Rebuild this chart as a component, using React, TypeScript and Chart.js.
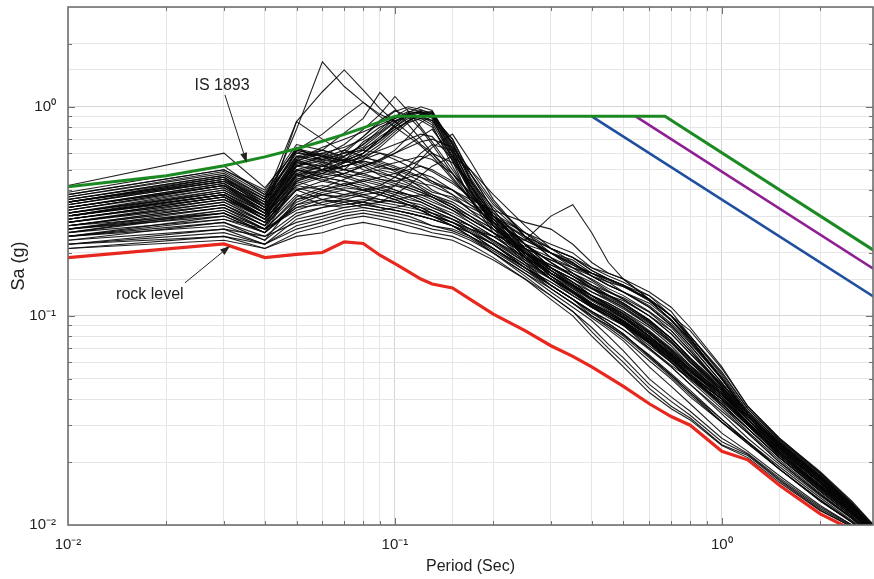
import { useEffect, useRef } from 'react';
import { Chart, registerables } from 'chart.js';

Chart.register(...registerables);

// Spectral periods (s) shared by every record below
const periods = [
  0.01, 0.03, 0.04, 0.05, 0.06, 0.07, 0.08, 0.09, 0.1, 0.11, 0.12, 0.13, 0.15, 0.17, 0.2,
  0.25, 0.3, 0.35, 0.4, 0.45, 0.5, 0.6, 0.7, 0.8, 1.0, 1.2, 1.5, 2.0, 2.5, 3.0,
];

// Bedrock spectrum (Sa in g)
const rockLevel = [
  0.19, 0.221, 0.19, 0.197, 0.201, 0.226, 0.222, 0.195, 0.178, 0.163, 0.15, 0.142, 0.136, 0.12, 0.102,
  0.085, 0.072, 0.064, 0.057, 0.051, 0.046, 0.038, 0.033, 0.03, 0.0225, 0.0205, 0.0155, 0.0113, 0.0095, 0.0075,
];

// IS 1893 design spectra
const codeSoftPeriods = [0.01, 0.02, 0.03, 0.04, 0.05, 0.06, 0.07, 0.08, 0.09, 0.1, 0.67, 3.0];
const codeSoftSa = [0.414, 0.468, 0.522, 0.576, 0.63, 0.684, 0.738, 0.792, 0.846, 0.9, 0.9, 0.2];
const codeMediumPeriods = [0.545, 3.0];
const codeMediumSa = [0.9, 0.163];
const codeRockPeriods = [0.4, 3.0];
const codeRockSa = [0.9, 0.12];

// Surface spectra, grouped by shape
const steepDropRecords = [
  [0.30, 0.38, 0.30, 0.52, 0.55, 0.58, 0.66, 0.78, 0.90, 0.98, 0.95, 0.88, 0.58, 0.40, 0.27, 0.19, 0.15, 0.13, 0.11, 0.10, 0.092, 0.075, 0.062, 0.052, 0.04, 0.031, 0.022, 0.015, 0.0115, 0.0088],
  [0.33, 0.42, 0.33, 0.56, 0.50, 0.62, 0.72, 0.84, 0.95, 1.0, 0.97, 0.92, 0.62, 0.43, 0.29, 0.2, 0.16, 0.135, 0.115, 0.105, 0.095, 0.078, 0.064, 0.054, 0.042, 0.032, 0.023, 0.016, 0.012, 0.009],
  [0.28, 0.35, 0.28, 0.48, 0.52, 0.50, 0.60, 0.70, 0.82, 0.92, 0.96, 0.94, 0.66, 0.45, 0.30, 0.21, 0.165, 0.14, 0.12, 0.11, 0.10, 0.08, 0.066, 0.055, 0.041, 0.031, 0.022, 0.0155, 0.0118, 0.009],
  [0.36, 0.47, 0.36, 0.60, 0.58, 0.55, 0.68, 0.76, 0.88, 0.95, 0.93, 0.90, 0.55, 0.36, 0.25, 0.18, 0.14, 0.12, 0.105, 0.095, 0.086, 0.07, 0.058, 0.05, 0.038, 0.029, 0.021, 0.0145, 0.011, 0.0085],
  [0.26, 0.33, 0.27, 0.45, 0.48, 0.54, 0.58, 0.66, 0.76, 0.86, 0.92, 0.90, 0.70, 0.48, 0.32, 0.22, 0.17, 0.145, 0.125, 0.115, 0.105, 0.085, 0.07, 0.058, 0.044, 0.033, 0.024, 0.0165, 0.0125, 0.0095],
  [0.31, 0.40, 0.31, 0.55, 0.60, 0.64, 0.70, 0.80, 0.86, 0.90, 0.88, 0.82, 0.52, 0.37, 0.26, 0.185, 0.15, 0.125, 0.11, 0.098, 0.09, 0.074, 0.06, 0.05, 0.039, 0.03, 0.0215, 0.015, 0.0112, 0.0087],
  [0.34, 0.44, 0.34, 0.58, 0.56, 0.60, 0.64, 0.74, 0.84, 0.94, 1.0, 0.96, 0.64, 0.42, 0.28, 0.2, 0.155, 0.13, 0.115, 0.102, 0.094, 0.077, 0.063, 0.052, 0.04, 0.0305, 0.022, 0.0152, 0.0116, 0.0089],
  [0.29, 0.37, 0.30, 0.50, 0.54, 0.56, 0.62, 0.72, 0.80, 0.88, 0.90, 0.86, 0.60, 0.41, 0.28, 0.195, 0.155, 0.13, 0.112, 0.1, 0.091, 0.074, 0.061, 0.051, 0.039, 0.03, 0.0215, 0.0148, 0.0113, 0.0086],
  [0.32, 0.41, 0.32, 0.54, 0.52, 0.58, 0.66, 0.75, 0.85, 0.93, 0.94, 0.91, 0.61, 0.40, 0.27, 0.19, 0.15, 0.128, 0.112, 0.1, 0.092, 0.076, 0.062, 0.052, 0.04, 0.031, 0.022, 0.0152, 0.0115, 0.0088],
  [0.27, 0.34, 0.27, 0.47, 0.50, 0.52, 0.56, 0.64, 0.74, 0.84, 0.88, 0.86, 0.68, 0.46, 0.31, 0.21, 0.165, 0.14, 0.12, 0.108, 0.098, 0.08, 0.065, 0.054, 0.041, 0.031, 0.0225, 0.0155, 0.0118, 0.009],
  [0.24, 0.30, 0.25, 0.44, 0.50, 0.55, 0.60, 0.70, 0.80, 0.90, 0.94, 0.93, 0.63, 0.42, 0.28, 0.195, 0.155, 0.132, 0.114, 0.102, 0.094, 0.077, 0.063, 0.052, 0.04, 0.0305, 0.022, 0.0152, 0.0115, 0.0088],
  [0.35, 0.45, 0.35, 0.58, 0.62, 0.58, 0.63, 0.70, 0.78, 0.85, 0.92, 0.95, 0.67, 0.45, 0.30, 0.205, 0.16, 0.137, 0.118, 0.106, 0.097, 0.079, 0.065, 0.054, 0.041, 0.031, 0.0222, 0.0155, 0.0117, 0.0089],
  [0.36, 0.46, 0.35, 0.56, 0.64, 0.70, 0.76, 0.82, 0.88, 0.92, 0.90, 0.84, 0.57, 0.39, 0.27, 0.19, 0.15, 0.13, 0.113, 0.102, 0.093, 0.076, 0.062, 0.052, 0.04, 0.0305, 0.022, 0.0151, 0.0114, 0.0087],
  [0.38, 0.50, 0.39, 0.63, 0.59, 0.55, 0.60, 0.68, 0.78, 0.86, 0.91, 0.93, 0.66, 0.44, 0.29, 0.2, 0.155, 0.132, 0.115, 0.104, 0.095, 0.078, 0.064, 0.053, 0.04, 0.0305, 0.022, 0.0152, 0.0115, 0.0088],
  [0.35, 0.44, 0.34, 0.54, 0.58, 0.55, 0.52, 0.56, 0.62, 0.72, 0.84, 0.90, 0.70, 0.48, 0.32, 0.22, 0.17, 0.145, 0.125, 0.113, 0.103, 0.084, 0.069, 0.057, 0.043, 0.032, 0.0232, 0.016, 0.0119, 0.009],
];

const broadHumpRecords = [
  [0.30, 0.40, 0.32, 0.55, 0.50, 0.46, 0.48, 0.50, 0.48, 0.45, 0.43, 0.42, 0.38, 0.34, 0.30, 0.25, 0.22, 0.20, 0.17, 0.16, 0.15, 0.12, 0.10, 0.085, 0.056, 0.037, 0.026, 0.018, 0.013, 0.0095],
  [0.35, 0.46, 0.36, 0.62, 0.58, 0.52, 0.55, 0.52, 0.50, 0.47, 0.44, 0.40, 0.36, 0.33, 0.29, 0.24, 0.21, 0.19, 0.165, 0.15, 0.14, 0.125, 0.105, 0.08, 0.052, 0.035, 0.025, 0.0175, 0.0125, 0.009],
  [0.28, 0.36, 0.30, 0.50, 0.46, 0.48, 0.52, 0.47, 0.44, 0.42, 0.40, 0.38, 0.35, 0.31, 0.27, 0.22, 0.2, 0.18, 0.155, 0.14, 0.13, 0.115, 0.095, 0.075, 0.05, 0.034, 0.024, 0.017, 0.012, 0.0088],
  [0.37, 0.49, 0.38, 0.64, 0.55, 0.50, 0.47, 0.45, 0.43, 0.41, 0.39, 0.37, 0.33, 0.30, 0.26, 0.215, 0.19, 0.17, 0.16, 0.145, 0.13, 0.11, 0.09, 0.072, 0.048, 0.033, 0.0235, 0.0165, 0.0118, 0.0086],
  [0.33, 0.43, 0.33, 0.57, 0.60, 0.56, 0.50, 0.48, 0.46, 0.44, 0.42, 0.39, 0.37, 0.32, 0.28, 0.23, 0.2, 0.185, 0.16, 0.15, 0.14, 0.12, 0.1, 0.078, 0.05, 0.034, 0.0245, 0.017, 0.0122, 0.0088],
  [0.25, 0.32, 0.26, 0.44, 0.48, 0.52, 0.55, 0.53, 0.49, 0.45, 0.41, 0.38, 0.34, 0.30, 0.26, 0.21, 0.185, 0.165, 0.15, 0.135, 0.125, 0.105, 0.088, 0.07, 0.046, 0.032, 0.023, 0.016, 0.0115, 0.0085],
  [0.30, 0.38, 0.30, 0.48, 0.44, 0.42, 0.40, 0.38, 0.36, 0.34, 0.32, 0.30, 0.28, 0.26, 0.24, 0.23, 0.30, 0.34, 0.25, 0.18, 0.15, 0.12, 0.095, 0.078, 0.05, 0.034, 0.0245, 0.017, 0.0122, 0.009],
  [0.38, 0.50, 0.40, 0.66, 0.62, 0.57, 0.53, 0.49, 0.46, 0.43, 0.40, 0.37, 0.33, 0.29, 0.25, 0.2, 0.175, 0.16, 0.145, 0.13, 0.12, 0.1, 0.085, 0.068, 0.046, 0.032, 0.0225, 0.016, 0.0115, 0.0085],
  [0.31, 0.41, 0.31, 0.53, 0.57, 0.62, 0.58, 0.54, 0.51, 0.48, 0.46, 0.44, 0.40, 0.35, 0.30, 0.24, 0.21, 0.19, 0.17, 0.155, 0.145, 0.125, 0.1, 0.08, 0.053, 0.036, 0.0255, 0.0178, 0.0128, 0.0092],
  [0.29, 0.37, 0.29, 0.49, 0.53, 0.47, 0.44, 0.46, 0.48, 0.50, 0.52, 0.50, 0.44, 0.37, 0.31, 0.25, 0.21, 0.19, 0.165, 0.15, 0.14, 0.12, 0.1, 0.078, 0.05, 0.034, 0.024, 0.017, 0.0122, 0.0088],
  [0.36, 0.47, 0.37, 0.61, 0.56, 0.54, 0.57, 0.55, 0.52, 0.49, 0.46, 0.43, 0.40, 0.36, 0.32, 0.28, 0.26, 0.22, 0.18, 0.16, 0.15, 0.13, 0.11, 0.088, 0.057, 0.037, 0.026, 0.0178, 0.0128, 0.0095],
  [0.30, 0.37, 0.29, 0.43, 0.47, 0.50, 0.48, 0.45, 0.44, 0.46, 0.48, 0.46, 0.40, 0.34, 0.28, 0.23, 0.2, 0.175, 0.16, 0.15, 0.14, 0.118, 0.096, 0.076, 0.05, 0.034, 0.0242, 0.0168, 0.0121, 0.0088],
  [0.33, 0.42, 0.32, 0.50, 0.46, 0.44, 0.42, 0.40, 0.39, 0.38, 0.37, 0.35, 0.32, 0.29, 0.25, 0.21, 0.185, 0.17, 0.155, 0.145, 0.138, 0.12, 0.1, 0.08, 0.054, 0.036, 0.0255, 0.0176, 0.0126, 0.0092],
  [0.31, 0.39, 0.31, 0.47, 0.52, 0.56, 0.54, 0.51, 0.50, 0.52, 0.56, 0.60, 0.54, 0.44, 0.33, 0.24, 0.2, 0.175, 0.155, 0.14, 0.13, 0.112, 0.092, 0.074, 0.05, 0.034, 0.0245, 0.017, 0.0123, 0.009],
  [0.30, 0.38, 0.30, 0.45, 0.49, 0.52, 0.56, 0.60, 0.58, 0.55, 0.52, 0.49, 0.43, 0.37, 0.30, 0.235, 0.2, 0.178, 0.16, 0.148, 0.138, 0.118, 0.096, 0.077, 0.051, 0.035, 0.0248, 0.0172, 0.0124, 0.0091],
];

const flatLowRecords = [
  [0.22, 0.24, 0.22, 0.26, 0.28, 0.30, 0.31, 0.30, 0.29, 0.28, 0.27, 0.26, 0.25, 0.23, 0.2, 0.16, 0.13, 0.11, 0.095, 0.08, 0.068, 0.05, 0.041, 0.035, 0.026, 0.022, 0.0168, 0.0122, 0.01, 0.0078],
  [0.24, 0.27, 0.23, 0.30, 0.33, 0.34, 0.35, 0.33, 0.32, 0.31, 0.30, 0.29, 0.27, 0.25, 0.22, 0.175, 0.14, 0.12, 0.105, 0.092, 0.082, 0.064, 0.052, 0.043, 0.032, 0.025, 0.019, 0.0135, 0.0105, 0.0082],
  [0.21, 0.23, 0.21, 0.24, 0.25, 0.27, 0.28, 0.27, 0.26, 0.25, 0.245, 0.24, 0.23, 0.21, 0.185, 0.15, 0.125, 0.105, 0.084, 0.07, 0.06, 0.045, 0.037, 0.0325, 0.0242, 0.0215, 0.0163, 0.0118, 0.0098, 0.0077],
  [0.26, 0.30, 0.25, 0.34, 0.36, 0.38, 0.37, 0.36, 0.35, 0.34, 0.33, 0.32, 0.29, 0.26, 0.23, 0.18, 0.15, 0.13, 0.11, 0.1, 0.09, 0.07, 0.057, 0.047, 0.034, 0.026, 0.0195, 0.0138, 0.0107, 0.0083],
  [0.23, 0.26, 0.24, 0.28, 0.30, 0.32, 0.33, 0.32, 0.31, 0.30, 0.285, 0.27, 0.26, 0.24, 0.21, 0.165, 0.135, 0.115, 0.1, 0.088, 0.078, 0.061, 0.05, 0.041, 0.031, 0.0245, 0.0185, 0.013, 0.0103, 0.008],
  [0.25, 0.29, 0.26, 0.32, 0.35, 0.36, 0.38, 0.39, 0.37, 0.35, 0.33, 0.31, 0.28, 0.25, 0.21, 0.17, 0.14, 0.12, 0.1, 0.09, 0.08, 0.063, 0.051, 0.042, 0.031, 0.025, 0.0185, 0.0132, 0.0104, 0.0081],
  [0.22, 0.25, 0.22, 0.27, 0.29, 0.31, 0.32, 0.31, 0.30, 0.29, 0.28, 0.27, 0.255, 0.235, 0.2, 0.155, 0.125, 0.105, 0.088, 0.073, 0.063, 0.047, 0.039, 0.0335, 0.025, 0.0218, 0.0165, 0.012, 0.0099, 0.0078],
  [0.27, 0.31, 0.26, 0.33, 0.34, 0.36, 0.35, 0.34, 0.33, 0.32, 0.31, 0.30, 0.28, 0.255, 0.22, 0.17, 0.14, 0.12, 0.103, 0.092, 0.082, 0.064, 0.052, 0.043, 0.031, 0.0245, 0.0185, 0.013, 0.0103, 0.008],
  [0.21, 0.24, 0.21, 0.25, 0.27, 0.29, 0.30, 0.29, 0.28, 0.27, 0.26, 0.25, 0.24, 0.22, 0.19, 0.15, 0.12, 0.1, 0.08, 0.067, 0.057, 0.043, 0.036, 0.0318, 0.024, 0.021, 0.016, 0.0117, 0.0098, 0.0077],
  [0.22, 0.26, 0.22, 0.29, 0.31, 0.33, 0.34, 0.33, 0.32, 0.31, 0.30, 0.29, 0.27, 0.25, 0.22, 0.17, 0.135, 0.115, 0.098, 0.086, 0.076, 0.057, 0.046, 0.038, 0.0275, 0.0225, 0.0172, 0.0124, 0.01, 0.0079],
  [0.24, 0.28, 0.24, 0.31, 0.33, 0.35, 0.36, 0.35, 0.34, 0.33, 0.32, 0.31, 0.29, 0.27, 0.24, 0.2, 0.17, 0.15, 0.135, 0.125, 0.115, 0.096, 0.078, 0.062, 0.044, 0.032, 0.023, 0.0158, 0.0117, 0.0088],
];

const midBandRecords = [
  [0.28, 0.35, 0.28, 0.40, 0.42, 0.40, 0.38, 0.36, 0.35, 0.34, 0.33, 0.31, 0.28, 0.25, 0.21, 0.17, 0.145, 0.125, 0.11, 0.1, 0.09, 0.072, 0.06, 0.05, 0.037, 0.029, 0.021, 0.0145, 0.011, 0.0085],
  [0.31, 0.39, 0.30, 0.44, 0.40, 0.43, 0.41, 0.39, 0.37, 0.35, 0.34, 0.32, 0.29, 0.26, 0.22, 0.175, 0.15, 0.13, 0.115, 0.104, 0.094, 0.075, 0.062, 0.051, 0.038, 0.029, 0.021, 0.0148, 0.0112, 0.0086],
  [0.26, 0.32, 0.26, 0.36, 0.38, 0.36, 0.34, 0.33, 0.32, 0.31, 0.30, 0.29, 0.27, 0.24, 0.205, 0.165, 0.14, 0.12, 0.105, 0.095, 0.086, 0.069, 0.057, 0.047, 0.035, 0.0275, 0.02, 0.014, 0.0108, 0.0083],
  [0.33, 0.42, 0.32, 0.47, 0.45, 0.42, 0.45, 0.43, 0.40, 0.38, 0.36, 0.34, 0.30, 0.27, 0.23, 0.185, 0.16, 0.14, 0.125, 0.112, 0.102, 0.083, 0.068, 0.055, 0.04, 0.03, 0.0215, 0.015, 0.0113, 0.0087],
  [0.29, 0.36, 0.29, 0.42, 0.46, 0.44, 0.40, 0.41, 0.39, 0.37, 0.35, 0.33, 0.30, 0.27, 0.225, 0.18, 0.155, 0.135, 0.12, 0.108, 0.098, 0.08, 0.064, 0.052, 0.038, 0.029, 0.021, 0.0146, 0.011, 0.0085],
  [0.35, 0.46, 0.34, 0.50, 0.48, 0.46, 0.43, 0.40, 0.38, 0.36, 0.35, 0.33, 0.30, 0.27, 0.23, 0.19, 0.165, 0.145, 0.13, 0.118, 0.108, 0.09, 0.074, 0.06, 0.043, 0.032, 0.023, 0.016, 0.0118, 0.0088],
  [0.37, 0.48, 0.37, 0.52, 0.50, 0.48, 0.46, 0.44, 0.42, 0.40, 0.38, 0.36, 0.32, 0.28, 0.24, 0.19, 0.16, 0.14, 0.125, 0.115, 0.105, 0.088, 0.072, 0.058, 0.042, 0.031, 0.0225, 0.0155, 0.0115, 0.0087],
  [0.23, 0.28, 0.23, 0.36, 0.40, 0.42, 0.44, 0.42, 0.40, 0.38, 0.36, 0.34, 0.31, 0.28, 0.24, 0.19, 0.16, 0.14, 0.125, 0.112, 0.1, 0.08, 0.064, 0.052, 0.037, 0.028, 0.0205, 0.0142, 0.0108, 0.0083],
  [0.28, 0.34, 0.27, 0.38, 0.34, 0.33, 0.34, 0.35, 0.36, 0.37, 0.38, 0.37, 0.34, 0.30, 0.25, 0.2, 0.17, 0.15, 0.135, 0.125, 0.118, 0.1, 0.082, 0.066, 0.046, 0.033, 0.0235, 0.0165, 0.012, 0.0088],
  [0.25, 0.31, 0.25, 0.33, 0.36, 0.35, 0.33, 0.32, 0.33, 0.34, 0.32, 0.30, 0.27, 0.24, 0.2, 0.16, 0.135, 0.115, 0.1, 0.09, 0.081, 0.065, 0.053, 0.044, 0.032, 0.025, 0.0185, 0.0131, 0.0103, 0.008],
  [0.26, 0.31, 0.25, 0.35, 0.39, 0.41, 0.40, 0.38, 0.36, 0.34, 0.32, 0.30, 0.27, 0.24, 0.21, 0.17, 0.145, 0.125, 0.11, 0.1, 0.092, 0.074, 0.06, 0.049, 0.036, 0.0275, 0.02, 0.014, 0.0108, 0.0083],
  [0.29, 0.36, 0.28, 0.41, 0.38, 0.37, 0.39, 0.41, 0.42, 0.41, 0.39, 0.37, 0.33, 0.29, 0.25, 0.2, 0.175, 0.155, 0.14, 0.13, 0.122, 0.104, 0.085, 0.068, 0.047, 0.034, 0.0242, 0.0168, 0.0122, 0.009],
];

const sharpPeakRecords = [
  [0.32, 0.42, 0.34, 0.78, 1.64, 1.25, 1.05, 0.90, 0.80, 0.72, 0.65, 0.58, 0.45, 0.36, 0.27, 0.2, 0.165, 0.14, 0.125, 0.11, 0.1, 0.082, 0.068, 0.056, 0.042, 0.032, 0.023, 0.016, 0.012, 0.009],
  [0.35, 0.45, 0.36, 0.85, 1.18, 1.5, 1.2, 0.98, 0.85, 0.75, 0.66, 0.6, 0.48, 0.38, 0.29, 0.22, 0.18, 0.155, 0.135, 0.12, 0.11, 0.09, 0.075, 0.06, 0.045, 0.034, 0.024, 0.0168, 0.0122, 0.009],
  [0.30, 0.39, 0.31, 0.85, 0.70, 0.60, 0.72, 0.86, 0.96, 0.90, 0.78, 0.66, 0.48, 0.36, 0.27, 0.2, 0.16, 0.14, 0.12, 0.108, 0.098, 0.08, 0.066, 0.055, 0.042, 0.032, 0.023, 0.016, 0.0118, 0.009],
  [0.33, 0.43, 0.33, 0.55, 0.62, 0.75, 0.88, 1.17, 0.98, 0.82, 0.70, 0.60, 0.46, 0.36, 0.27, 0.2, 0.16, 0.14, 0.12, 0.108, 0.098, 0.08, 0.066, 0.055, 0.042, 0.032, 0.023, 0.016, 0.0118, 0.009],
  [0.29, 0.37, 0.29, 0.52, 0.58, 0.66, 0.78, 0.92, 1.12, 0.95, 0.80, 0.68, 0.50, 0.38, 0.28, 0.205, 0.165, 0.142, 0.122, 0.11, 0.1, 0.082, 0.067, 0.056, 0.043, 0.033, 0.0235, 0.0162, 0.012, 0.009],
  [0.34, 0.44, 0.35, 0.62, 0.74, 0.90, 1.05, 0.92, 0.85, 0.90, 0.86, 0.80, 0.55, 0.40, 0.28, 0.2, 0.16, 0.138, 0.12, 0.108, 0.098, 0.08, 0.066, 0.055, 0.042, 0.032, 0.023, 0.016, 0.0118, 0.009],
  [0.42, 0.60, 0.41, 0.62, 0.58, 0.55, 0.60, 0.70, 0.82, 0.92, 0.95, 0.90, 0.60, 0.40, 0.27, 0.19, 0.15, 0.13, 0.112, 0.1, 0.092, 0.075, 0.062, 0.052, 0.04, 0.031, 0.022, 0.0152, 0.0115, 0.0088],
  [0.39, 0.52, 0.38, 0.58, 0.54, 0.50, 0.52, 0.55, 0.60, 0.66, 0.72, 0.78, 0.58, 0.42, 0.30, 0.22, 0.18, 0.155, 0.135, 0.122, 0.112, 0.094, 0.078, 0.062, 0.045, 0.033, 0.024, 0.0168, 0.0122, 0.009],
];

const latePeakRecords = [
  [0.27, 0.34, 0.28, 0.40, 0.36, 0.34, 0.35, 0.38, 0.42, 0.48, 0.56, 0.64, 0.74, 0.55, 0.36, 0.24, 0.19, 0.16, 0.14, 0.125, 0.115, 0.095, 0.078, 0.063, 0.046, 0.034, 0.0245, 0.017, 0.0125, 0.0092],
  [0.30, 0.38, 0.29, 0.42, 0.40, 0.38, 0.40, 0.42, 0.46, 0.52, 0.60, 0.66, 0.62, 0.48, 0.34, 0.25, 0.2, 0.17, 0.148, 0.132, 0.12, 0.1, 0.082, 0.066, 0.047, 0.035, 0.025, 0.0172, 0.0126, 0.0092],
  [0.24, 0.29, 0.25, 0.34, 0.38, 0.40, 0.37, 0.35, 0.38, 0.42, 0.47, 0.52, 0.58, 0.50, 0.38, 0.27, 0.21, 0.18, 0.155, 0.14, 0.13, 0.11, 0.09, 0.072, 0.048, 0.034, 0.0245, 0.0172, 0.0125, 0.0092],
  [0.32, 0.42, 0.31, 0.46, 0.50, 0.54, 0.58, 0.62, 0.66, 0.70, 0.74, 0.72, 0.56, 0.42, 0.30, 0.21, 0.17, 0.145, 0.125, 0.112, 0.102, 0.084, 0.069, 0.057, 0.043, 0.032, 0.023, 0.016, 0.0118, 0.0089],
  [0.27, 0.33, 0.27, 0.40, 0.44, 0.48, 0.52, 0.56, 0.60, 0.64, 0.68, 0.70, 0.64, 0.50, 0.35, 0.24, 0.19, 0.16, 0.14, 0.126, 0.115, 0.095, 0.078, 0.063, 0.045, 0.033, 0.0238, 0.0165, 0.0121, 0.009],
  [0.34, 0.45, 0.33, 0.52, 0.56, 0.60, 0.62, 0.60, 0.56, 0.52, 0.48, 0.44, 0.38, 0.32, 0.26, 0.2, 0.17, 0.15, 0.13, 0.12, 0.11, 0.092, 0.076, 0.06, 0.044, 0.033, 0.0235, 0.0162, 0.012, 0.009],
  [0.27, 0.33, 0.26, 0.37, 0.41, 0.45, 0.49, 0.52, 0.54, 0.56, 0.58, 0.56, 0.48, 0.39, 0.30, 0.22, 0.18, 0.155, 0.137, 0.124, 0.113, 0.093, 0.076, 0.061, 0.044, 0.032, 0.0232, 0.016, 0.0119, 0.009],
];

// Axis ranges
const periodRange = [0.01, 2.9];
const saRange = [0.01, 3];

// Callouts: label position and arrow from/to, in data units (period, Sa)
const callouts = [
  { text: 'IS 1893', at: [0.0296, 1.26], from: [0.0302, 1.14], to: [0.0352, 0.54] },
  { text: 'rock level', at: [0.0178, 0.127], from: [0.0228, 0.144], to: [0.0313, 0.216] },
];

const pairs = (xs: number[], ys: number[]) => xs.map((x, i) => ({ x, y: ys[i] }));

const isDecade = (v: number) => {
  const l = Math.log10(v);
  return Math.abs(l - Math.round(l)) < 1e-6;
};

const supDigits: Record<string, string> = {
  '-': '\u207B', '0': '\u2070', '1': '\u00B9', '2': '\u00B2', '3': '\u00B3',
};
const decadeLabel = (v: number) => {
  const e = String(Math.round(Math.log10(v)));
  return '10' + e.split('').map((c) => supDigits[c] ?? c).join('');
};

const isMinorOrMajor = (v: number) => {
  const e = Math.floor(Math.log10(v) + 1e-9);
  const m = v / Math.pow(10, e);
  return Math.abs(m - Math.round(m)) < 1e-6 && Math.round(m) >= 1 && Math.round(m) <= 9;
};

// MATLAB-style box with inward tick marks on all four sides
const frameTicks = {
  id: 'frameTicks',
  afterDraw(chart: any) {
    const { ctx, chartArea: a, scales } = chart;
    ctx.save();
    ctx.strokeStyle = '#707070';
    ctx.lineWidth = 1;
    ctx.beginPath();
    for (const t of scales.x.ticks) {
      if (!isMinorOrMajor(t.value)) continue;
      const px = Math.round(scales.x.getPixelForValue(t.value)) + 0.5;
      if (px <= a.left + 1 || px >= a.right - 1) continue;
      const len = isDecade(t.value) ? 7 : 4;
      ctx.moveTo(px, a.bottom); ctx.lineTo(px, a.bottom - len);
      ctx.moveTo(px, a.top); ctx.lineTo(px, a.top + len);
    }
    for (const t of scales.y.ticks) {
      if (!isMinorOrMajor(t.value)) continue;
      const py = Math.round(scales.y.getPixelForValue(t.value)) + 0.5;
      if (py <= a.top + 1 || py >= a.bottom - 1) continue;
      const len = isDecade(t.value) ? 7 : 4;
      ctx.moveTo(a.left, py); ctx.lineTo(a.left + len, py);
      ctx.moveTo(a.right, py); ctx.lineTo(a.right - len, py);
    }
    ctx.stroke();
    ctx.lineWidth = 1.6;
    ctx.strokeRect(a.left, a.top, a.right - a.left, a.bottom - a.top);
    ctx.restore();
  },
};

// Text callouts with arrows
const calloutLayer = {
  id: 'calloutLayer',
  afterDatasetsDraw(chart: any) {
    const { ctx, scales } = chart;
    const px = (p: number[]) => [scales.x.getPixelForValue(p[0]), scales.y.getPixelForValue(p[1])];
    ctx.save();
    ctx.font = '16px "Liberation Sans", Arial, sans-serif';
    ctx.fillStyle = '#222';
    ctx.textAlign = 'center';
    ctx.textBaseline = 'middle';
    for (const c of callouts) {
      const [tx, ty] = px(c.at);
      ctx.fillText(c.text, tx, ty);
      const [x0, y0] = px(c.from);
      const [x1, y1] = px(c.to);
      const ang = Math.atan2(y1 - y0, x1 - x0);
      const head = 10;
      const hw = 3.5;
      const bx = x1 - head * Math.cos(ang);
      const by = y1 - head * Math.sin(ang);
      ctx.strokeStyle = '#222';
      ctx.lineWidth = 1;
      ctx.beginPath();
      ctx.moveTo(x0, y0);
      ctx.lineTo(bx, by);
      ctx.stroke();
      ctx.beginPath();
      ctx.moveTo(x1, y1);
      ctx.lineTo(bx + hw * Math.sin(ang), by - hw * Math.cos(ang));
      ctx.lineTo(bx - hw * Math.sin(ang), by + hw * Math.cos(ang));
      ctx.closePath();
      ctx.fill();
    }
    ctx.restore();
  },
};

export default function App() {
  const canvasRef = useRef<HTMLCanvasElement | null>(null);

  useEffect(() => {
    document.body.style.margin = '0';
    const canvas = canvasRef.current;
    if (!canvas) return;

    const records = [
      ...steepDropRecords,
      ...broadHumpRecords,
      ...flatLowRecords,
      ...midBandRecords,
      ...sharpPeakRecords,
      ...latePeakRecords,
    ];

    const thin = (ys: number[], i: number) => ({
      label: `record ${i + 1}`,
      data: pairs(periods, ys),
      borderColor: 'rgba(8,8,8,0.9)',
      borderWidth: 1.1,
      pointRadius: 0,
      tension: 0,
    });

    const chart = new Chart(canvas, {
      type: 'line',
      data: {
        datasets: [
          { label: 'rock level', data: pairs(periods, rockLevel), borderColor: '#e8281e', borderWidth: 3.2, pointRadius: 0 },
          { label: 'IS 1893 soft soil', data: pairs(codeSoftPeriods, codeSoftSa), borderColor: '#1c8a22', borderWidth: 3, pointRadius: 0 },
          { label: 'IS 1893 medium soil', data: pairs(codeMediumPeriods, codeMediumSa), borderColor: '#8e1f93', borderWidth: 2.6, pointRadius: 0 },
          { label: 'IS 1893 rock', data: pairs(codeRockPeriods, codeRockSa), borderColor: '#1f4f9e', borderWidth: 2.6, pointRadius: 0 },
          ...records.map(thin),
        ],
      },
      options: {
        animation: false,
        responsive: false,
        layout: { padding: { top: 7, right: 1, left: 0, bottom: 0 } },
        plugins: { legend: { display: false }, tooltip: { enabled: false } },
        scales: {
          x: {
            type: 'logarithmic',
            min: periodRange[0],
            max: periodRange[1],
            afterFit: (s: any) => {
              s.height = 54;
              s.paddingLeft = 0;
              s.paddingRight = 0;
            },
            border: { display: false },
            grid: {
              drawTicks: false,
              color: (c: any) => (c.tick && isDecade(c.tick.value) ? '#d6d6d6' : '#e6e6e6'),
              lineWidth: 1,
            },
            ticks: {
              autoSkip: false,
              maxRotation: 0,
              padding: 11,
              color: '#222',
              font: { family: '"Liberation Sans", Arial, sans-serif', size: 15 },
              callback: (v: any) => (isDecade(Number(v)) ? decadeLabel(Number(v)) : ''),
            },
            title: {
              display: true,
              text: 'Period (Sec)',
              color: '#222',
              font: { family: '"Liberation Sans", Arial, sans-serif', size: 16 },
              padding: { top: 0, bottom: 3 },
            },
          },
          y: {
            type: 'logarithmic',
            min: saRange[0],
            max: saRange[1],
            afterFit: (s: any) => {
              s.width = 68;
              s.paddingTop = 0;
              s.paddingBottom = 0;
            },
            border: { display: false },
            grid: {
              drawTicks: false,
              color: (c: any) => (c.tick && isDecade(c.tick.value) ? '#d6d6d6' : '#e6e6e6'),
              lineWidth: 1,
            },
            ticks: {
              autoSkip: false,
              padding: 12,
              color: '#222',
              font: { family: '"Liberation Sans", Arial, sans-serif', size: 15 },
              callback: (v: any) => (isDecade(Number(v)) ? decadeLabel(Number(v)) : ''),
            },
            title: {
              display: true,
              text: 'Sa (g)',
              color: '#222',
              font: { family: '"Liberation Sans", Arial, sans-serif', size: 18 },
              padding: { top: 8, bottom: 0 },
            },
          },
        },
      },
      plugins: [calloutLayer, frameTicks],
    });

    return () => chart.destroy();
  }, []);

  return (
    <div style={{ width: 874, height: 579 }}>
      <canvas ref={canvasRef} width={874} height={579} style={{ display: 'block' }} />
    </div>
  );
}
